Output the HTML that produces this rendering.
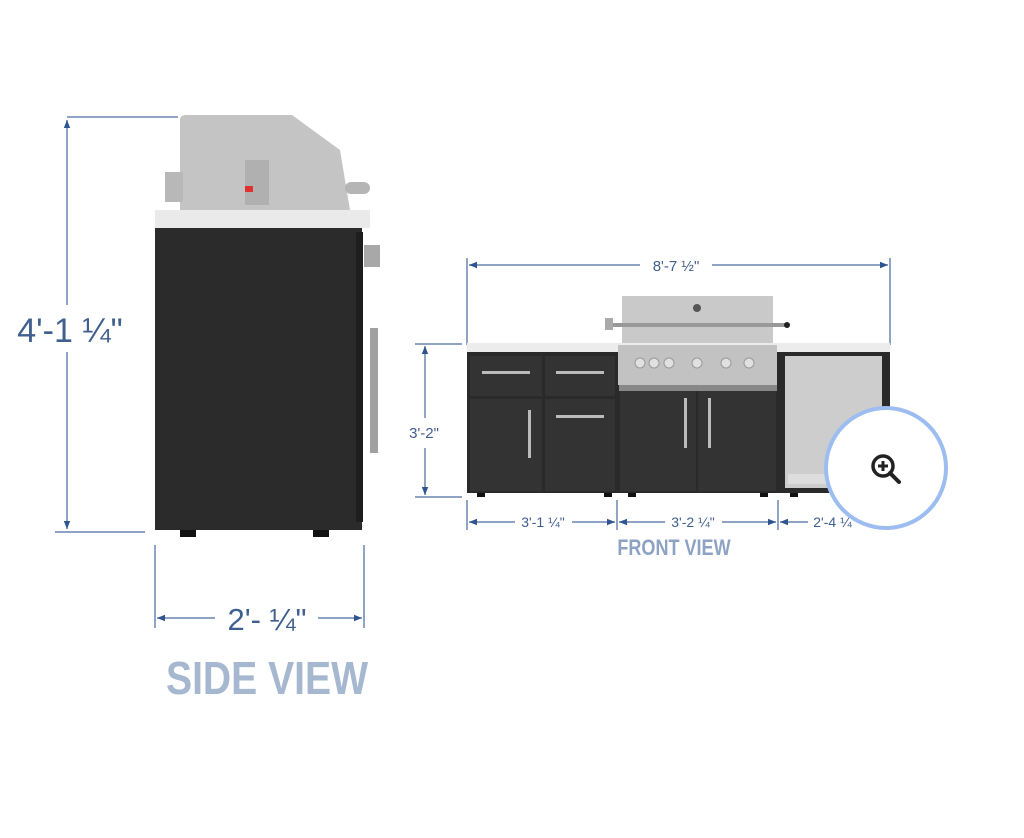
<!DOCTYPE html>
<html><head><meta charset="utf-8"><style>
html,body{margin:0;padding:0;background:#fff;width:1024px;height:838px;overflow:hidden}
svg{display:block}
.d{font-family:"Liberation Sans",sans-serif;fill:#3f5f8f}
.t{font-family:"Liberation Sans",sans-serif;font-weight:bold}
</style></head><body>
<svg width="1024" height="838" viewBox="0 0 1024 838" xmlns="http://www.w3.org/2000/svg">
<defs>
<marker id="a" viewBox="0 0 10 10" refX="10" refY="5" markerWidth="10" markerHeight="8" orient="auto-start-reverse" markerUnits="userSpaceOnUse"><path d="M0,1 L10,5 L0,9z" fill="#2f5590"/></marker>
</defs>
<g stroke="#6a86b0" stroke-width="1.5" fill="none">
<line x1="67" y1="117" x2="178" y2="117"/>
<line x1="55" y1="532" x2="145" y2="532"/>
<line x1="67" y1="120" x2="67" y2="305" marker-start="url(#a)"/>
<line x1="67" y1="352" x2="67" y2="529" marker-end="url(#a)"/>
<line x1="155" y1="545" x2="155" y2="628"/>
<line x1="364" y1="545" x2="364" y2="628"/>
<line x1="157" y1="618" x2="215" y2="618" marker-start="url(#a)"/>
<line x1="318" y1="618" x2="362" y2="618" marker-end="url(#a)"/>
<line x1="467" y1="258" x2="467" y2="345"/>
<line x1="890" y1="258" x2="890" y2="345"/>
<line x1="469" y1="265" x2="640" y2="265" marker-start="url(#a)"/>
<line x1="712" y1="265" x2="888" y2="265" marker-end="url(#a)"/>
<line x1="415" y1="344" x2="462" y2="344"/>
<line x1="415" y1="497" x2="462" y2="497"/>
<line x1="425" y1="346" x2="425" y2="418" marker-start="url(#a)"/>
<line x1="425" y1="448" x2="425" y2="495" marker-end="url(#a)"/>
<line x1="467" y1="500" x2="467" y2="530"/>
<line x1="617" y1="500" x2="617" y2="530"/>
<line x1="778" y1="500" x2="778" y2="530"/>
<line x1="469" y1="522" x2="515" y2="522" marker-start="url(#a)"/>
<line x1="572" y1="522" x2="615" y2="522" marker-end="url(#a)"/>
<line x1="619" y1="522" x2="665" y2="522" marker-start="url(#a)"/>
<line x1="722" y1="522" x2="776" y2="522" marker-end="url(#a)"/>
<line x1="780" y1="522" x2="808" y2="522" marker-start="url(#a)"/>
</g>
<text class="d" x="70" y="342" font-size="34" text-anchor="middle">4'-1 ¼"</text>
<text class="d" x="267" y="630" font-size="31" text-anchor="middle">2'- ¼"</text>
<text class="t" x="267" y="694" font-size="46" fill="#a6b7d0" text-anchor="middle" transform="translate(267 0) scale(0.85 1) translate(-267 0)">SIDE VIEW</text>
<text class="d" x="676" y="271" font-size="15" text-anchor="middle">8'-7 ½"</text>
<text class="d" x="424" y="438" font-size="15" text-anchor="middle">3'-2"</text>
<text class="d" x="543" y="527" font-size="14" text-anchor="middle">3'-1 ¼"</text>
<text class="d" x="693" y="527" font-size="14" text-anchor="middle">3'-2 ¼"</text>
<text class="d" x="835" y="527" font-size="14" text-anchor="middle">2'-4 ¼"</text>
<text class="t" x="674" y="555" font-size="22" fill="#8ea3c4" text-anchor="middle" transform="translate(674 0) scale(0.82 1) translate(-674 0)">FRONT VIEW</text>

<path d="M180 120 Q180 115 186 115 L292 115 L340 150 L350 210 L180 210z" fill="#c4c4c4"/>
<rect x="165" y="172" width="18" height="30" fill="#b8b8b8"/>
<rect x="245" y="160" width="24" height="45" fill="#b0b0b0"/>
<rect x="245" y="186" width="8" height="6" fill="#e03030"/>
<rect x="345" y="182" width="25" height="12" rx="6" fill="#b5b5b5"/>
<rect x="155" y="210" width="215" height="18" fill="#eaeaea"/>
<rect x="155" y="228" width="207" height="302" fill="#2b2b2b"/>
<rect x="356" y="232" width="7" height="290" fill="#1e1e1e"/>
<rect x="364" y="245" width="16" height="22" fill="#a8a8a8"/>
<rect x="370" y="328" width="8" height="125" fill="#a0a0a0"/>
<rect x="180" y="530" width="16" height="7" fill="#111"/>
<rect x="313" y="530" width="16" height="7" fill="#111"/>

<rect x="622" y="296" width="151" height="48" fill="#c9c9c9"/>
<circle cx="697" cy="308" r="4" fill="#555"/>
<rect x="607" y="323" width="180" height="4" fill="#999"/>
<rect x="605" y="318" width="8" height="12" fill="#aaa"/>
<circle cx="787" cy="325" r="3" fill="#222"/>
<rect x="467" y="343" width="423" height="10" fill="#ececec"/>
<rect x="467" y="352" width="423" height="141" fill="#2a2a2a"/>
<rect x="470" y="356" width="72" height="40" fill="#333"/>
<rect x="545" y="356" width="70" height="40" fill="#333"/>
<rect x="470" y="399" width="72" height="92" fill="#333"/>
<rect x="545" y="399" width="70" height="92" fill="#333"/>
<rect x="618" y="345" width="159" height="40" fill="#c2c2c2"/>
<g fill="#e0e0e0" stroke="#999"><circle cx="640" cy="363" r="5"/><circle cx="654" cy="363" r="5"/><circle cx="669" cy="363" r="5"/><circle cx="697" cy="363" r="5"/><circle cx="726" cy="363" r="5"/><circle cx="749" cy="363" r="5"/></g>
<rect x="619" y="385" width="158" height="6" fill="#888"/>
<rect x="620" y="391" width="76" height="100" fill="#333"/>
<rect x="698" y="391" width="78" height="100" fill="#333"/>
<g fill="#bbb">
<rect x="482" y="371" width="48" height="3"/>
<rect x="556" y="371" width="48" height="3"/>
<rect x="556" y="415" width="48" height="3"/>
<rect x="528" y="410" width="3" height="48"/>
<rect x="684" y="398" width="3" height="50"/>
<rect x="708" y="398" width="3" height="50"/>
</g>
<rect x="785" y="356" width="97" height="132" fill="#cdcdcd"/>
<rect x="788" y="474" width="40" height="10" fill="#ddd"/>
<g fill="#111"><rect x="477" y="493" width="8" height="4"/><rect x="604" y="493" width="8" height="4"/><rect x="628" y="493" width="8" height="4"/><rect x="760" y="493" width="8" height="4"/><rect x="790" y="493" width="8" height="4"/></g>

<circle cx="886" cy="468" r="60" fill="#fff" stroke="#9dbdf0" stroke-width="4"/>
<circle cx="883" cy="466" r="10" fill="none" stroke="#222" stroke-width="3.5"/>
<line x1="890" y1="473" x2="899" y2="482" stroke="#222" stroke-width="4" stroke-linecap="round"/>
<line x1="878" y1="466" x2="888" y2="466" stroke="#222" stroke-width="3"/>
<line x1="883" y1="461" x2="883" y2="471" stroke="#222" stroke-width="3"/>
</svg>
</body></html>
